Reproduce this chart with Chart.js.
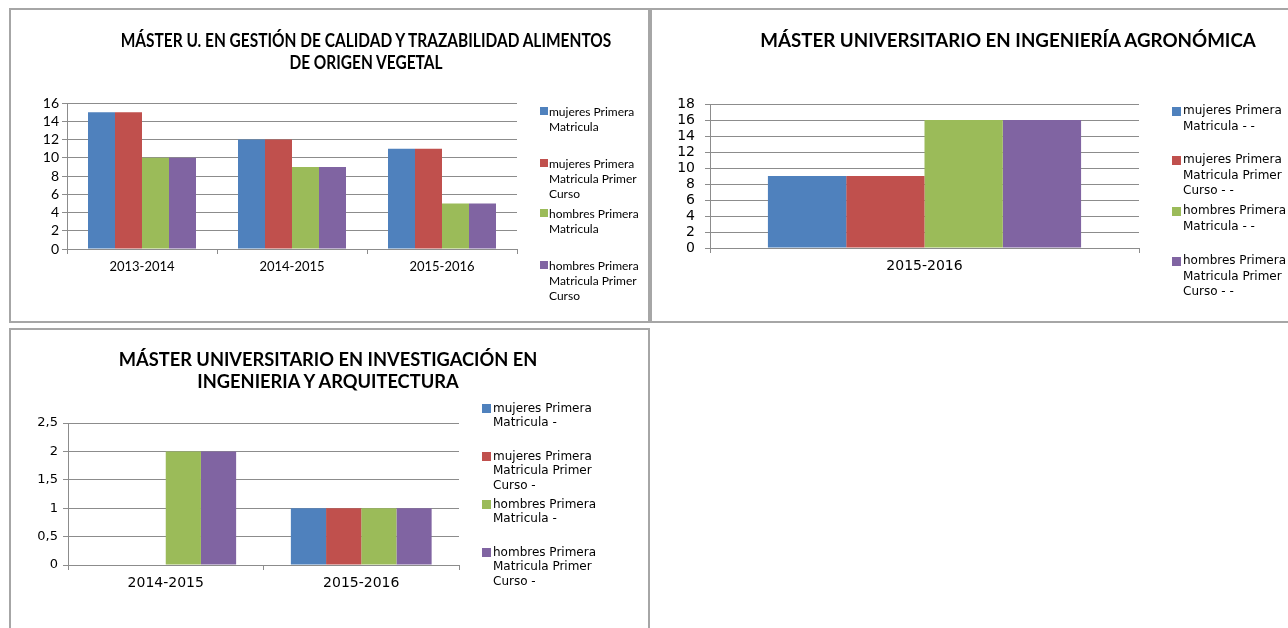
<!DOCTYPE html>
<html><head><meta charset="utf-8">
<script src="https://cdn.jsdelivr.net/npm/chart.js@4.4.0/dist/chart.umd.min.js"></script>
<style>
html,body{margin:0;padding:0;background:#fff;width:1288px;height:628px;overflow:hidden;position:relative}
.panel{position:absolute;border:2px solid #a6a6a6;box-sizing:border-box;background:#fff}
canvas{position:absolute}
.title{position:absolute;white-space:nowrap;font-weight:bold;color:#000;text-align:center}
.sq{position:absolute}
.lt{position:absolute;color:#000}
</style></head><body>
<div class="panel" style="left:9px;top:8px;width:641px;height:315px"></div>
<div class="panel" style="left:650px;top:8px;width:700px;height:315px"></div>
<div class="panel" style="left:9px;top:328px;width:641px;height:400px"></div>
<canvas id="c1" width="650" height="325" style="left:0;top:0"></canvas>
<canvas id="c2" width="638" height="325" style="left:650px;top:0"></canvas>
<canvas id="c3" width="650" height="303" style="left:0;top:325px"></canvas>
<div id="overlay"></div>
<script>
// ---- data ----
const colors = ['#4F81BD', '#C0504D', '#9BBB59', '#8064A2'];

const title1 = ['MÁSTER U. EN GESTIÓN DE CALIDAD Y TRAZABILIDAD ALIMENTOS', 'DE ORIGEN VEGETAL'];
const categories1 = ['2013-2014', '2014-2015', '2015-2016'];
const labels1 = ['mujeres Primera Matricula', 'mujeres Primera Matricula Primer Curso', 'hombres Primera Matricula', 'hombres Primera Matricula Primer Curso'];
const mujeresPM1 = [15, 12, 11];
const mujeresPMPC1 = [15, 12, 11];
const hombresPM1 = [10, 9, 5];
const hombresPMPC1 = [10, 9, 5];

const title2 = ['MÁSTER UNIVERSITARIO EN INGENIERÍA AGRONÓMICA'];
const categories2 = ['2015-2016'];
const labels2 = ['mujeres Primera Matricula - -', 'mujeres Primera Matricula Primer Curso - -', 'hombres Primera Matricula - -', 'hombres Primera Matricula Primer Curso - -'];
const mujeresPM2 = [9];
const mujeresPMPC2 = [9];
const hombresPM2 = [16];
const hombresPMPC2 = [16];

const title3 = ['MÁSTER UNIVERSITARIO EN INVESTIGACIÓN EN', 'INGENIERIA Y ARQUITECTURA'];
const categories3 = ['2014-2015', '2015-2016'];
const labels3 = ['mujeres Primera Matricula -', 'mujeres Primera Matricula Primer Curso -', 'hombres Primera Matricula -', 'hombres Primera Matricula Primer Curso -'];
const mujeresPM3 = [null, 1];
const mujeresPMPC3 = [null, 1];
const hombresPM3 = [2, 1];
const hombresPMPC3 = [2, 1];

// ---- chart builder ----
const GRID = '#8c8c8c';
function makeChart(id, cats, seriesData, labels, o) {
  const datasets = seriesData.map((d, i) => ({
    label: labels[i], data: d, backgroundColor: colors[i], borderWidth: 0,
    barPercentage: 1.0, categoryPercentage: o.catPct
  }));
  return new Chart(document.getElementById(id), {
    type: 'bar',
    data: { labels: cats, datasets },
    options: {
      responsive: false, animation: false,
      layout: { padding: o.pad },
      plugins: { legend: { display: false }, title: { display: false }, tooltip: { enabled: false } },
      scales: {
        x: {
          grid: { offset: true, drawOnChartArea: false, color: GRID, tickLength: 5 },
          border: { color: GRID },
          ticks: { font: o.xFont, color: '#000', padding: o.xPad, maxRotation: 0, autoSkip: false },
          afterFit: s => { s.height = 40; }
        },
        y: {
          min: 0, max: o.max,
          grid: { color: GRID, tickLength: 5 },
          border: { color: GRID },
          ticks: { stepSize: o.step, font: Object.assign({ lineHeight: 1 }, o.yFont), color: '#000', padding: o.yPad,
                   autoSkip: false, maxTicksLimit: 30,
                   callback: v => String(v).replace('.', ',') },
          afterFit: s => { s.width = 50; }
        }
      }
    }
  });
}

makeChart('c1', categories1, [mujeresPM1, mujeresPMPC1, hombresPM1, hombresPMPC1], labels1, {
  catPct: 0.72, max: 16, step: 2,
  pad: { left: 17, right: 133, top: 103, bottom: 36 },
  xFont: { family: 'Lato', size: 13 }, yFont: { family: 'Lato', size: 14 }, xPad: 5, yPad: 3
});
makeChart('c2', categories2, [mujeresPM2, mujeresPMPC2, hombresPM2, hombresPMPC2], labels2, {
  catPct: 0.73, max: 18, step: 2,
  pad: { left: 10, right: 149, top: 104, bottom: 37 },
  xFont: { family: 'DejaVu Sans', size: 14 }, yFont: { family: 'DejaVu Sans', size: 14 }, xPad: 5, yPad: 10
});
makeChart('c3', categories3, [mujeresPM3, mujeresPMPC3, hombresPM3, hombresPMPC3], labels3, {
  catPct: 0.72, max: 2.5, step: 0.5,
  pad: { left: 18, right: 191, top: 98, bottom: 23 },
  xFont: { family: 'DejaVu Sans', size: 14 }, yFont: { family: 'DejaVu Sans', size: 13 }, xPad: 5, yPad: 5
});

// ---- titles (HTML text) ----
const ov = document.getElementById('overlay');
const mctx = document.createElement('canvas').getContext('2d');
function fitSize(text, family, targetW) {
  mctx.font = 'bold 100px ' + family;
  return 100 * targetW / mctx.measureText(text).width;
}
function addTitle(lines, family, cx, ys, size, scaleX) {
  lines.forEach((t, i) => {
    const d = document.createElement('div');
    d.className = 'title';
    d.textContent = t;
    d.style.font = 'bold ' + size.toFixed(2) + 'px ' + family;
    d.style.left = cx + 'px';
    d.style.top = ys[i] + 'px';
    d.style.transform = `translate(-50%,-50%) scaleX(${scaleX})`;
    ov.appendChild(d);
  });
}
const s2 = fitSize(title2[0], 'Lato', 497);
const s3 = fitSize(title3[0], 'Lato', 419);
const s1natural = fitSize(title1[0], 'Lato', 493);
const s1 = s2;
addTitle(title1, 'Lato', 366, [40, 62], s1, s1natural / s1);
addTitle(title2, 'Lato', 1008, [40], s2, 1);
addTitle(title3, 'Lato', 328, [359, 381], s3, 1);

// ---- legends (HTML text) ----
function addLegend(labels, o) {
  labels.forEach((t, i) => {
    const sq = document.createElement('div');
    sq.className = 'sq';
    sq.style.cssText = `left:${o.sqX}px;top:${o.ys[i] - o.sq / 2}px;width:${o.sq}px;height:${o.sq}px;background:${colors[i]}`;
    ov.appendChild(sq);
    const d = document.createElement('div');
    d.className = 'lt';
    d.textContent = t;
    d.style.cssText = `left:${o.tx}px;top:${o.ys[i] - o.lh / 2}px;width:${o.w}px;font:${o.fs}px ${o.font};line-height:${o.lh}px`;
    ov.appendChild(d);
  });
}
addLegend(labels1, { sqX: 540, sq: 8, tx: 549, ys: [111, 163, 213, 265], lh: 15, w: 96, fs: 12, font: 'Lato' });
addLegend(labels2, { sqX: 1172, sq: 9, tx: 1183, ys: [111, 160, 211, 261], lh: 15.5, w: 118, fs: 12, font: '"DejaVu Sans"' });
addLegend(labels3, { sqX: 482, sq: 9, tx: 493, ys: [408, 456, 504, 552], lh: 14.5, w: 118, fs: 12, font: '"DejaVu Sans"' });
</script>
</body></html>
